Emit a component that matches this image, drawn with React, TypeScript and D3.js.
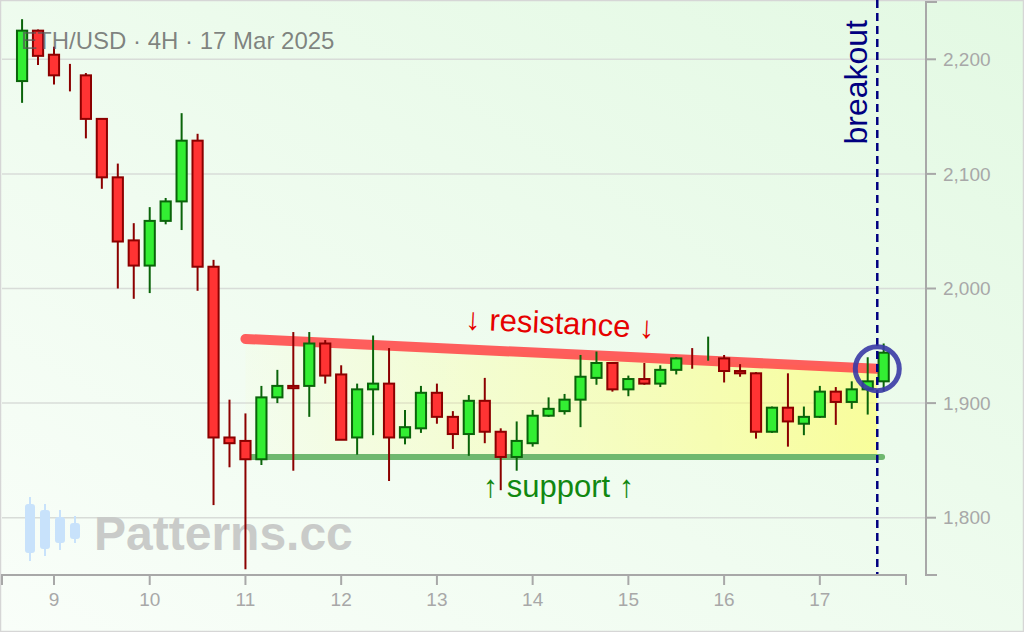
import React from "react";
import * as d3 from "d3";

const W = 1024;
const H = 632;

// 4H candles, Mar 8 16:00 -> Mar 17 16:00
const startDay = 8 + 16 / 24;
const stepDays = 4 / 24;

const opens = [2181, 2225, 2204, 2186.3, 2186, 2148, 2097, 2042, 2020, 2059, 2076, 2129, 2019, 1870, 1867, 1851, 1905, 1915, 1915, 1952, 1925, 1870, 1912, 1917, 1870, 1878, 1909, 1888, 1873, 1902, 1875, 1853, 1865, 1889, 1893, 1903, 1922, 1935, 1912, 1921, 1917, 1929, 1938.3, 1938, 1939, 1928, 1926, 1875, 1896, 1882, 1888, 1910, 1901, 1912, 1919];
const highs = [2235, 2226, 2211, 2196, 2188, 2148, 2109, 2057, 2071, 2079, 2153, 2135, 2025, 1903, 1891, 1915, 1929, 1962, 1962, 1955, 1933, 1917, 1959, 1948, 1894, 1915, 1917, 1893, 1907, 1922, 1878, 1884, 1894, 1905, 1908, 1942, 1945, 1935, 1924, 1935, 1933, 1940, 1948, 1958, 1942, 1934, 1927, 1897, 1926, 1897, 1915, 1914, 1919, 1940, 1952];
const lows = [2162, 2195, 2178, 2172, 2131, 2087, 2000, 1991, 1996, 2056, 2051, 1998, 1811, 1844, 1755, 1846, 1900, 1841, 1888, 1917, 1868, 1855, 1872, 1832, 1864, 1874, 1882, 1860, 1854, 1865, 1824, 1841, 1862, 1888, 1890, 1879, 1916, 1910, 1906, 1916, 1914, 1925, 1930, 1937, 1918, 1923, 1869, 1874, 1862, 1872, 1887, 1881, 1895, 1890, 1910];
const closes = [2225, 2203, 2186, 2186, 2148, 2097, 2041, 2020, 2059, 2076, 2129, 2019, 1870, 1865, 1851, 1905, 1915, 1913, 1952, 1924, 1868, 1912, 1917, 1870, 1879, 1909, 1888, 1873, 1902, 1875, 1853, 1867, 1889, 1895, 1903, 1923, 1935, 1912, 1921, 1917, 1929, 1939, 1938, 1938.3, 1928, 1926, 1875, 1896, 1884, 1888, 1910, 1901, 1912, 1919, 1944];

const xTicks = [9, 10, 11, 12, 13, 14, 15, 16, 17];
const yTicks = [1800, 1900, 2000, 2100, 2200];

const resistanceDays = [11.0, 17.6];
const resistancePrices = [1956, 1930];
const supportDays = [11.0, 17.65];
const supportPrices = [1853, 1853];
const breakoutDay = 17.6;
const breakoutPrice = 1930;
const labelDay = 14.27;

const title = "ETH/USD · 4H · 17 Mar 2025";
const resistanceLabel = "↓ resistance ↓";
const supportLabel = "↑ support ↑";
const breakoutLabel = "breakout";
const watermark = "Patterns.cc";

// watermark logo candles: [offsetX, wickTop, bodyTop, bodyBottom, wickBottom]
const logoCandles = [
  [30, 497, 504, 553, 561],
  [45, 504, 510, 549, 556],
  [60, 510, 517, 543, 550],
  [75, 516, 523, 539, 543],
];

const FONT = "'Liberation Sans', Arial, sans-serif";

export default function App() {
  const x = d3.scaleLinear().domain([8.457, 17.9]).range([2, 906]);
  const y = d3.scaleLinear().domain([1750, 2250]).range([575, 2]);

  const times = opens.map((_, i) => startDay + i * stepDays);
  const step = x(startDay + stepDays) - x(startDay);
  const bw = step * 0.64;

  const line = d3
    .line<[number, number]>()
    .x((d) => x(d[0]))
    .y((d) => y(d[1]));

  const resPts: [number, number][] = resistanceDays.map((d, i) => [d, resistancePrices[i]]);
  const supPts: [number, number][] = supportDays.map((d, i) => [d, supportPrices[i]]);

  const area = d3
    .area<number>()
    .x((d) => x(d))
    .y0(() => y(supportPrices[0]))
    .y1((d) => {
      const t = (d - resistanceDays[0]) / (resistanceDays[1] - resistanceDays[0]);
      return y(resistancePrices[0] + t * (resistancePrices[1] - resistancePrices[0]));
    });

  const rx0 = x(resistanceDays[0]);
  const ry0 = y(resistancePrices[0]);
  const rx1 = x(resistanceDays[1]);
  const ry1 = y(resistancePrices[1]);
  const angle = (Math.atan2(ry1 - ry0, rx1 - rx0) * 180) / Math.PI;
  const lt = (labelDay - resistanceDays[0]) / (resistanceDays[1] - resistanceDays[0]);
  const labelResPrice = resistancePrices[0] + lt * (resistancePrices[1] - resistancePrices[0]);
  const lx = x(labelDay);
  const ly = y(labelResPrice);

  const axisColor = "#a8a8a8";

  return (
    <svg
      width={W}
      height={H}
      style={{ position: "absolute", left: 0, top: 0, display: "block" }}
      fontFamily={FONT}
    >
      <defs>
        <linearGradient id="bg" x1="0" y1="1" x2="1" y2="0">
          <stop offset="0" stopColor="#f9fef9" />
          <stop offset="1" stopColor="#e3f9e3" />
        </linearGradient>
        <linearGradient id="yel" gradientUnits="userSpaceOnUse" x1={rx0} y1="0" x2={rx1} y2="0">
          <stop offset="0" stopColor="#ffff80" stopOpacity={0.04} />
          <stop offset="1" stopColor="#ffff70" stopOpacity={0.65} />
        </linearGradient>
      </defs>
      <rect x={0} y={0} width={W} height={H} fill="url(#bg)" />
      <rect x={0.5} y={0.5} width={W - 1} height={H - 1} fill="none" stroke="#d6d6d6" strokeWidth={1.5} />

      {/* grid */}
      {yTicks.map((t) => (
        <line key={t} x1={2} x2={926} y1={y(t)} y2={y(t)} stroke="#d8dcd8" strokeWidth={1.5} />
      ))}

      {/* watermark */}
      <g fill="#c8e2fb" stroke="#c8e2fb">
        {logoCandles.map((c, i) => (
          <g key={i}>
            <line x1={c[0]} x2={c[0]} y1={c[1]} y2={c[4]} strokeWidth={2} />
            <rect x={c[0] - 5} y={c[2]} width={10} height={c[3] - c[2]} rx={3} stroke="none" />
          </g>
        ))}
      </g>
      <text x={94} y={550} fontSize={48} fontWeight="bold" fill="#c9cbc9">
        {watermark}
      </text>

      {/* pattern fill */}
      <path d={area(resistanceDays) || ""} fill="url(#yel)" />

      {/* support */}
      <path d={line(supPts) || ""} stroke="#6fb86f" strokeWidth={6} strokeLinecap="round" fill="none" />
      {/* resistance */}
      <path d={line(resPts) || ""} stroke="#ff4d4d" strokeOpacity={0.9} strokeWidth={10} strokeLinecap="round" fill="none" />

      {/* candles */}
      {times.map((t, i) => {
        const o = opens[i];
        const c = closes[i];
        const up = c > o;
        const stroke = up ? "#0a640a" : "#8b0000";
        const fill = up ? "#33ee33" : "#ff3333";
        const cx = x(t);
        const top = y(Math.max(o, c));
        const h = Math.abs(y(o) - y(c));
        return (
          <g key={i}>
            <line x1={cx} x2={cx} y1={y(highs[i])} y2={y(lows[i])} stroke={stroke} strokeWidth={2} />
            {h >= 1 && (
              <rect x={cx - bw / 2} y={top} width={bw} height={h} fill={fill} stroke={stroke} strokeWidth={2} />
            )}
          </g>
        );
      })}

      {/* title (semi-transparent, over candles) */}
      <text x={21} y={49} fontSize={24} fill="#555" fillOpacity={0.72}>
        {title}
      </text>

      {/* labels */}
      <text
        transform={`translate(${lx},${ly}) rotate(${angle}) translate(0,-20)`}
        textAnchor="middle"
        fontSize={31}
        fill="#e60000"
      >
        {resistanceLabel}
      </text>
      <text x={x(labelDay)} y={y(supportPrices[0]) + 40} textAnchor="middle" fontSize={31} fill="#118811">
        {supportLabel}
      </text>

      {/* breakout */}
      <line
        x1={x(breakoutDay)}
        x2={x(breakoutDay)}
        y1={0}
        y2={575}
        stroke="#000080"
        strokeWidth={2.5}
        strokeDasharray="8,5"
      />
      <text
        transform={`translate(${x(breakoutDay) - 10},20) rotate(-90)`}
        textAnchor="end"
        fontSize={32}
        fill="#000080"
      >
        {breakoutLabel}
      </text>
      <circle cx={x(breakoutDay)} cy={y(breakoutPrice)} r={22} fill="none" stroke="#3a3aa6" strokeOpacity={0.9} strokeWidth={5} />

      {/* x axis */}
      <g>
        <path d={`M${x.range()[0]},585V575H${x.range()[1]}V585`} fill="none" stroke={axisColor} strokeWidth={2} />
        {xTicks.map((t) => (
          <g key={t} transform={`translate(${x(t)},575)`}>
            <line y2={10} stroke={axisColor} strokeWidth={2} />
            <text y={31} textAnchor="middle" fontSize={19} fill={axisColor}>
              {t}
            </text>
          </g>
        ))}
      </g>

      {/* y axis (right) */}
      <g>
        <path d={`M937,${y.range()[0]}H926V${y.range()[1]}H937`} fill="none" stroke={axisColor} strokeWidth={2} />
        {yTicks.map((t) => (
          <g key={t} transform={`translate(926,${y(t)})`}>
            <line x2={10} stroke={axisColor} strokeWidth={2} />
            <text x={17} dy="0.35em" fontSize={19} fill={axisColor}>
              {d3.format(",")(t)}
            </text>
          </g>
        ))}
      </g>
    </svg>
  );
}
